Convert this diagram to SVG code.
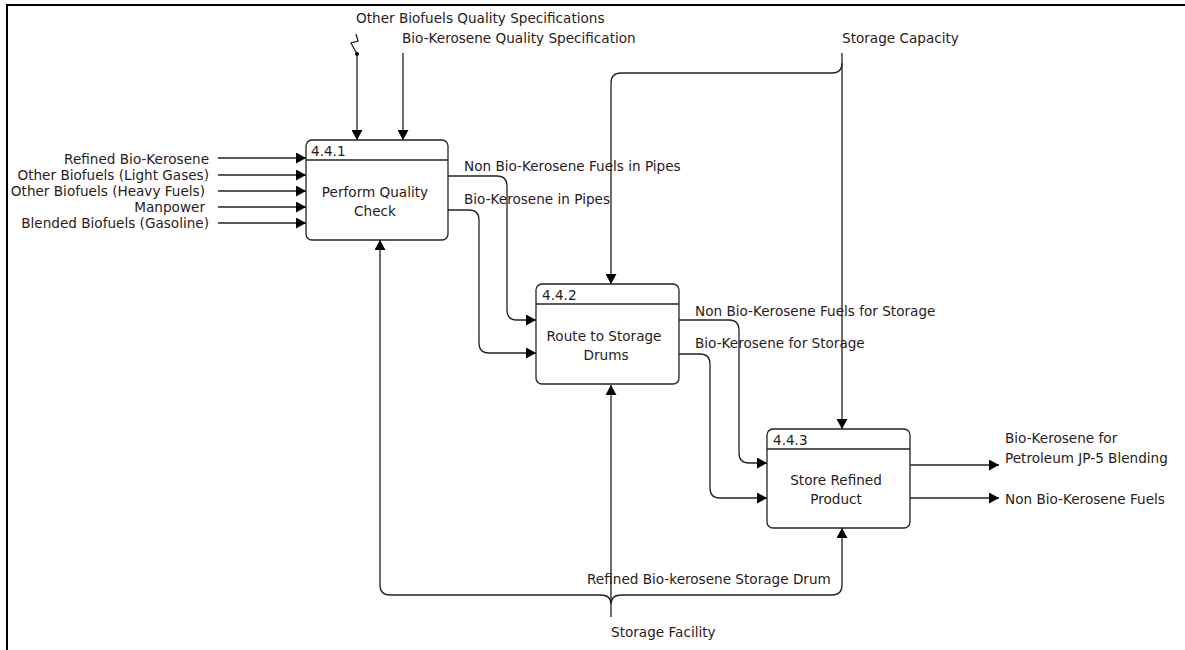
<svg xmlns="http://www.w3.org/2000/svg" width="1185" height="650" viewBox="0 0 1185 650">
<defs>
<marker id="arr" markerWidth="11" markerHeight="11" refX="10" refY="5.5" orient="auto" markerUnits="userSpaceOnUse">
<path d="M0,0 L10,5.5 L0,11 Z" fill="#000"/>
</marker>
<style>
text{font-family:"DejaVu Sans","Liberation Sans",sans-serif;font-size:13.6px;fill:#2a1a1a}
.c{stroke:#222;stroke-width:1.3;fill:none}
.a{marker-end:url(#arr)}
.box{fill:#fff;stroke:#222;stroke-width:1.3}
.mid{text-anchor:middle}
.end{text-anchor:end}
</style>
</defs>
<rect width="1185" height="650" fill="#fff"/>
<path d="M7,650 V5 H1185" fill="none" stroke="#000" stroke-width="2"/>

<g id="connectors">
<!-- inputs to 4.4.1 -->
<path class="c a" d="M218,158 H306"/>
<path class="c a" d="M218,175 H306"/>
<path class="c a" d="M218,191 H306"/>
<path class="c a" d="M218,207 H306"/>
<path class="c a" d="M218,223 H306"/>
<!-- controls to 4.4.1 -->
<path class="c" d="M356,34 L358,41 L351,43 L357,54"/>
<circle cx="357" cy="54" r="2" fill="#000"/>
<path class="c a" d="M357,54 V140"/>
<path class="c a" d="M403,53 V140"/>
<!-- outputs 4.4.1 -> 4.4.2 -->
<path class="c a" d="M448,176 H497 Q507,176 507,186 V310 Q507,320 517,320 H536"/>
<path class="c a" d="M448,210 H469 Q479,210 479,220 V343 Q479,353 489,353 H536"/>
<!-- storage capacity -->
<path class="c a" d="M842,53 V429"/>
<path class="c a" d="M842,63 Q842,73 832,73 H621 Q611,73 611,83 V284"/>
<!-- outputs 4.4.2 -> 4.4.3 -->
<path class="c a" d="M679,320 H729 Q739,320 739,330 V453 Q739,463 749,463 H767"/>
<path class="c a" d="M679,354 H700 Q710,354 710,364 V488 Q710,498 720,498 H767"/>
<!-- outputs 4.4.3 -->
<path class="c a" d="M910,465 H999"/>
<path class="c a" d="M910,498 H999"/>
<!-- mechanism -->
<path class="c a" d="M611,617 V385"/>
<path class="c a" d="M600,595 H390 Q380,595 380,585 V240"/>
<path class="c a" d="M622,595 H832 Q842,595 842,585 V528"/>
<path class="c" d="M600,595 Q611,595 611,604 Q611,595 622,595"/>
</g>

<g id="node-4.4.1">
<rect class="box" x="306" y="140" width="142" height="100" rx="6"/>
<line x1="306" y1="160" x2="448" y2="160" stroke="#222" stroke-width="1.3"/>
<text x="311" y="156">4.4.1</text>
<text class="mid" x="375" y="197">Perform Quality</text>
<text class="mid" x="375" y="216">Check</text>
</g>

<g id="node-4.4.2">
<rect class="box" x="536" y="284" width="143" height="100" rx="6"/>
<line x1="536" y1="304" x2="679" y2="304" stroke="#222" stroke-width="1.3"/>
<text x="542" y="300">4.4.2</text>
<text class="mid" x="604" y="341">Route to Storage</text>
<text class="mid" x="606" y="360">Drums</text>
</g>

<g id="node-4.4.3">
<rect class="box" x="767" y="429" width="143" height="99" rx="6"/>
<line x1="767" y1="449" x2="910" y2="449" stroke="#222" stroke-width="1.3"/>
<text x="773" y="445">4.4.3</text>
<text class="mid" x="836" y="485">Store Refined</text>
<text class="mid" x="836" y="504">Product</text>
</g>

<g id="labels">
<text class="end" x="209" y="164">Refined Bio-Kerosene</text>
<text class="end" x="209" y="180">Other Biofuels (Light Gases)</text>
<text class="end" x="205" y="196">Other Biofuels (Heavy Fuels)</text>
<text class="end" x="205" y="212">Manpower</text>
<text class="end" x="209" y="228">Blended Biofuels (Gasoline)</text>
<text x="356" y="23">Other Biofuels Quality Specifications</text>
<text x="402" y="43">Bio-Kerosene Quality Specification</text>
<text x="464" y="171">Non Bio-Kerosene Fuels in Pipes</text>
<text x="464" y="204">Bio-Kerosene in Pipes</text>
<text x="842" y="43">Storage Capacity</text>
<text x="695" y="316">Non Bio-Kerosene Fuels for Storage</text>
<text x="695" y="348">Bio-Kerosene for Storage</text>
<text x="1005" y="443">Bio-Kerosene for</text>
<text x="1005" y="463">Petroleum JP-5 Blending</text>
<text x="1005" y="504">Non Bio-Kerosene Fuels</text>
<text x="587" y="584">Refined Bio-kerosene Storage Drum</text>
<text x="611" y="637">Storage Facility</text>
</g>
</svg>
